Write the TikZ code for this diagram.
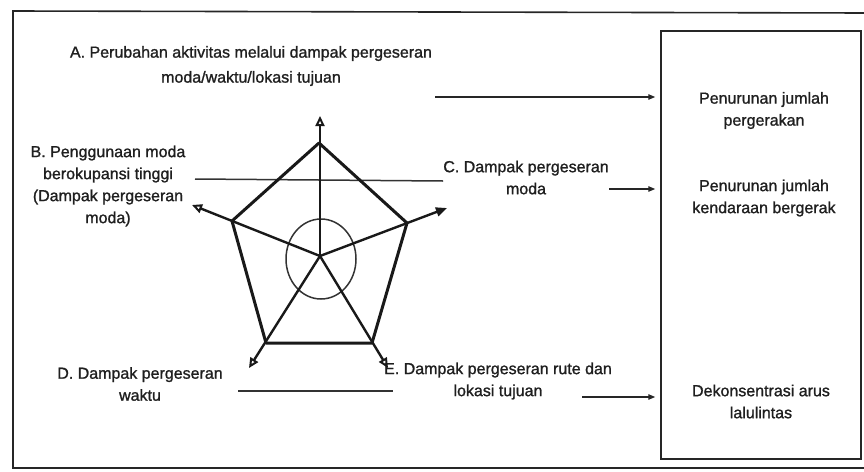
\documentclass[tikz,border=0pt]{standalone}
\usepackage{fontspec}
\setmainfont{Liberation Sans}[FakeBold=1.2]
\usetikzlibrary{arrows.meta}
\begin{document}
\begin{tikzpicture}[x=1pt,y=-1pt,
  lbl/.style={align=center, inner sep=0pt, font=\fontsize{16}{22}\selectfont, text=black!88},
  penta/.style={line width=3pt, line join=round, black!90},
  spoke/.style={line width=2.4pt, black!90, -{Triangle[open,length=10pt,width=9pt,line width=2pt]}},
  spokef/.style={line width=2.4pt, black!90, -{Triangle[length=11pt,width=9pt]}},
  thin/.style={line width=1.5pt, black!80},
  res/.style={line width=1.3pt, black!85, -{Triangle[length=7pt,width=5.5pt]}, shorten >=5pt},
  frame/.style={line width=1.6pt, black!85}]
\useasboundingbox (0,0) rectangle (864,471);
% outer frame
\draw[frame] (866,13) -- (13,11) -- (13,468) -- (866,468);
% right result box
\node[draw, line width=1.5pt, black!85, minimum width=200pt, minimum height=428pt, inner sep=0pt] (box) at (761,245) {};
\node[lbl] (r1) at (764,110.5) {Penurunan jumlah\\pergerakan};
\node[lbl] (r2) at (764,198) {Penurunan jumlah\\kendaraan bergerak};
\node[lbl] (r3) at (761,401.5) {Dekonsentrasi arus\\lalulintas};
% labels
\node[lbl, font=\fontsize{16}{25}\selectfont] (A) at (251,66) {A. Perubahan aktivitas melalui dampak pergeseran\\moda/waktu/lokasi tujuan};
\node[lbl] (B) at (108,186) {B. Penggunaan moda\\berokupansi tinggi\\(Dampak pergeseran\\moda)};
\node[lbl] (C) at (526,177.5) {C. Dampak pergeseran\\moda};
\node[lbl] (D) at (140,384) {D. Dampak pergeseran\\waktu};
\node[lbl] (E) at (498,381) {E. Dampak pergeseran rute dan\\lokasi tujuan};
% pentagon geometry
\coordinate (O) at (320,256);
\coordinate (vT) at (319,143);
\coordinate (vL) at (232,221);
\coordinate (vR) at (407,223);
\coordinate (vBL) at (266,343);
\coordinate (vBR) at (372,343);
\coordinate (tT) at (320,116);
\coordinate (tL) at (192,205);
\coordinate (tR) at (447,208);
\coordinate (tBL) at (249,368);
\coordinate (tBR) at (388,368);
% horizontal separator lines
\coordinate (h1a) at (195,179);
\coordinate (h1b) at (443,181);
\coordinate (h2a) at (238,391);
\coordinate (h2b) at (393,391);
\draw[thin] (h1a) -- (h1b);
\draw[thin] (h2a) -- (h2b);
% circle
\draw[line width=1.5pt, black!80] (321,259) ellipse [x radius=35pt, y radius=40pt];
% pentagon
\draw[penta] (vT) -- (vR) -- (vBR) -- (vBL) -- (vL) -- cycle;
% spokes
\draw[spoke] (O) -- (tT);
\draw[spoke] (O) -- (tL);
\draw[spokef] (O) -- (tR);
\draw[spoke] (O) -- (tBL);
\draw[spoke] (O) -- (tBR);
% result arrows
\coordinate (sA) at (435,97);
\coordinate (sC) at (609,189);
\coordinate (sE) at (582,397);
\draw[res] (sA) -- (sA -| box.west);
\draw[res] (sC) -- (sC -| box.west);
\draw[res] (sE) -- (sE -| box.west);
\end{tikzpicture}
\end{document}
